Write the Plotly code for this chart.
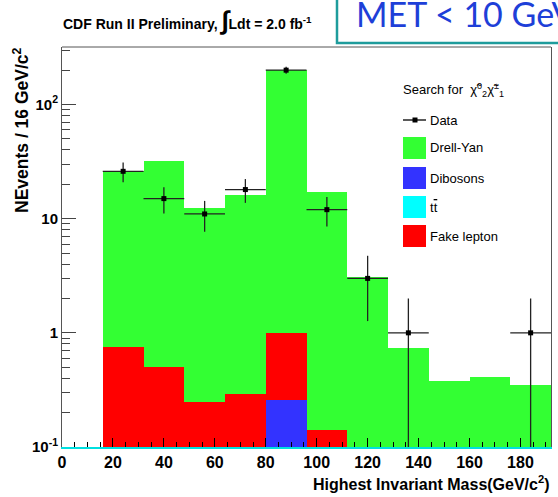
import plotly.graph_objects as go

# ---------------- data ----------------
bin_edges = [16, 32, 48, 64, 80, 96, 112, 128, 144, 160, 176, 192]
bin_centers = [24, 40, 56, 72, 88, 104, 120, 136, 152, 168, 184]
drell_yan = [25.2, 31.5, 12.2, 15.7, 199.0, 16.9, 3.08, 0.74, 0.38, 0.41, 0.35]
dibosons = [0.02, 0.02, 0.02, 0.02, 0.26, 0.01, 0.01, 0.0, 0.0, 0.0, 0.0]
ttbar = [0.01, 0.01, 0.01, 0.01, 0.0, 0.01, 0.0, 0.0, 0.0, 0.0, 0.0]
fake_lepton = [0.72, 0.47, 0.22, 0.26, 0.73, 0.12, 0.0, 0.0, 0.0, 0.0, 0.0]
data_counts = [26, 15, 11, 18, 200, 12, 3, 1, 0, 0, 1]

y_tickvals = [0.1, 1, 10, 100]
y_ticktext = ["10<sup>-1</sup>", "1", "10", "10<sup>2</sup>"]
x_tickvals = [0, 20, 40, 60, 80, 100, 120, 140, 160, 180]

bin_width = [e2 - e1 for e1, e2 in zip(bin_edges[:-1], bin_edges[1:])]

# stacked (cumulative) histograms, drawn from total downwards
s_dib = list(dibosons)
s_tt = [a + b for a, b in zip(s_dib, ttbar)]
s_fake = [a + b for a, b in zip(s_tt, fake_lepton)]
s_total = [a + b for a, b in zip(s_fake, drell_yan)]

GREEN = "#33FF33"
BLUE = "#3333FF"
CYAN = "#00FFFF"
RED = "#FF0000"

fig = go.Figure()
for vals, col in [(s_total, GREEN), (s_fake, RED), (s_tt, CYAN), (s_dib, BLUE)]:
    fig.add_trace(go.Bar(x=bin_centers, y=vals, width=bin_width,
                         marker=dict(color=col, line=dict(width=0)),
                         showlegend=False, hoverinfo="skip"))

# data points with Poisson errors
dx = [c for c, n in zip(bin_centers, data_counts) if n > 0]
dy = [n for n in data_counts if n > 0]
dw = [w / 2 for w, n in zip(bin_width, data_counts) if n > 0]
err = [n ** 0.5 for n in dy]
err_minus = [min(e, n * 0.9999) for e, n in zip(err, dy)]
fig.add_trace(go.Scatter(
    x=dx, y=dy, mode="markers",
    marker=dict(symbol="square", size=5, color="black"),
    error_y=dict(type="data", array=err, arrayminus=err_minus, width=0,
                 thickness=1.3, color="#222222"),
    error_x=dict(type="data", array=dw, width=0, thickness=1.3, color="#222222"),
    showlegend=False, hoverinfo="skip"))

# ---------------- layout ----------------
W, H = 558, 497
L, R, T, B = 62, 7, 47, 50
pw, ph = W - L - R, H - T - B


def px(xp):
    return (xp - L) / pw


def py(yp):
    return (H - B - yp) / ph


tickfont = dict(family="Liberation Sans", size=16, color="black", weight="bold")
fig.update_layout(
    width=W, height=H, margin=dict(l=L, r=R, t=T, b=B),
    paper_bgcolor="white", plot_bgcolor="white",
    barmode="overlay", bargap=0,
    xaxis=dict(range=[0, 192], tickvals=x_tickvals, ticks="inside", ticklen=9,
               tickcolor="black", tickwidth=1, showgrid=False, zeroline=False,
               showline=True, linecolor="#00E0E0", linewidth=1.5,
               tickfont=tickfont,
               minor=dict(ticks="inside", ticklen=5, dtick=5, tick0=0,
                          tickcolor="black", tickwidth=1, showgrid=False)),
    yaxis=dict(type="log", range=[-1, 2.504], tickvals=y_tickvals, ticktext=y_ticktext,
               ticks="inside", ticklen=14, tickcolor="#444", tickwidth=1,
               showgrid=False, zeroline=False, showline=True, mirror=True,
               linecolor="#555", linewidth=1,
               tickfont=dict(family="Liberation Sans", size=15, color="black", weight="bold"),
               minor=dict(ticks="inside", ticklen=8, tickcolor="#444", tickwidth=1,
                          tickmode="array",
                          tickvals=[0.2, 0.3, 0.4, 0.5, 0.6, 0.7, 0.8, 0.9,
                                    2, 3, 4, 5, 6, 7, 8, 9,
                                    20, 30, 40, 50, 60, 70, 80, 90, 200, 300],
                          showgrid=False)),
)

shapes = []
annots = []
# top frame line
shapes.append(dict(type="line", xref="paper", yref="paper", x0=0, x1=1, y0=1, y1=1,
                   line=dict(color="#555", width=1)))
# MET box
shapes.append(dict(type="rect", xref="paper", yref="paper",
                   x0=px(337), x1=px(700), y0=py(43), y1=py(-10),
                   line=dict(color="#1E9C9C", width=2.5), fillcolor="white", layer="above"))
annots.append(dict(xref="paper", yref="paper", x=px(354), y=py(14), xanchor="left",
                   yanchor="middle", showarrow=False, text="MET &lt; 10 GeV",
                   font=dict(family="Lato", size=34, color="#1E3FD8")))
# title
annots.append(dict(xref="paper", yref="paper", x=px(61), y=py(20), xanchor="left",
                   yanchor="middle", showarrow=False,
                   text="CDF Run II Preliminary, <span style='font-size:26px'>∫</span>Ldt = 2.0 fb<sup>-1</sup>",
                   font=dict(family="Liberation Sans", size=14, color="black", weight="bold")))
# axis titles
annots.append(dict(xref="paper", yref="paper", x=px(21), y=py(45), xanchor="center",
                   yanchor="top", textangle=-90, showarrow=False,
                   text="NEvents / 16 GeV/c<sup>2</sup>",
                   font=dict(family="Liberation Sans", size=17.5, color="black", weight="bold")))
annots.append(dict(xref="paper", yref="paper", x=px(552), y=py(483), xanchor="right",
                   yanchor="middle", showarrow=False,
                   text="Highest Invariant Mass(GeV/c<sup>2</sup>)",
                   font=dict(family="Liberation Sans", size=16, color="black", weight="bold")))

# legend (manual, ROOT style)
lfont = dict(family="Liberation Sans", size=13, color="black")
annots.append(dict(xref="paper", yref="paper", x=px(401), y=py(90), xanchor="left",
                   yanchor="middle", showarrow=False,
                   text="Search for  χ̃<sup>0</sup><sub>2</sub>χ̃<sup>±</sup><sub>1</sub>",
                   font=lfont))
shapes.append(dict(type="line", xref="paper", yref="paper", x0=px(403), x1=px(426),
                   y0=py(120), y1=py(120), line=dict(color="black", width=1.3)))
shapes.append(dict(type="rect", xref="paper", yref="paper", x0=px(412.5), x1=px(417.5),
                   y0=py(117.5), y1=py(122.5), line=dict(width=0), fillcolor="black"))
annots.append(dict(xref="paper", yref="paper", x=px(428), y=py(120), xanchor="left",
                   yanchor="middle", showarrow=False, text="Data", font=lfont))
for label, col, yc in [("Drell-Yan", GREEN, 148), ("Dibosons", BLUE, 178),
                       ("t<span style='text-decoration:overline'>t</span>", CYAN, 207),
                       ("Fake lepton", RED, 236)]:
    shapes.append(dict(type="rect", xref="paper", yref="paper", x0=px(403), x1=px(426),
                       y0=py(yc + 11), y1=py(yc - 11), line=dict(width=0), fillcolor=col))
    annots.append(dict(xref="paper", yref="paper", x=px(428), y=py(yc), xanchor="left",
                       yanchor="middle", showarrow=False, text=label, font=lfont))

fig.update_layout(shapes=shapes, annotations=annots)
fig.write_html("out.html")
